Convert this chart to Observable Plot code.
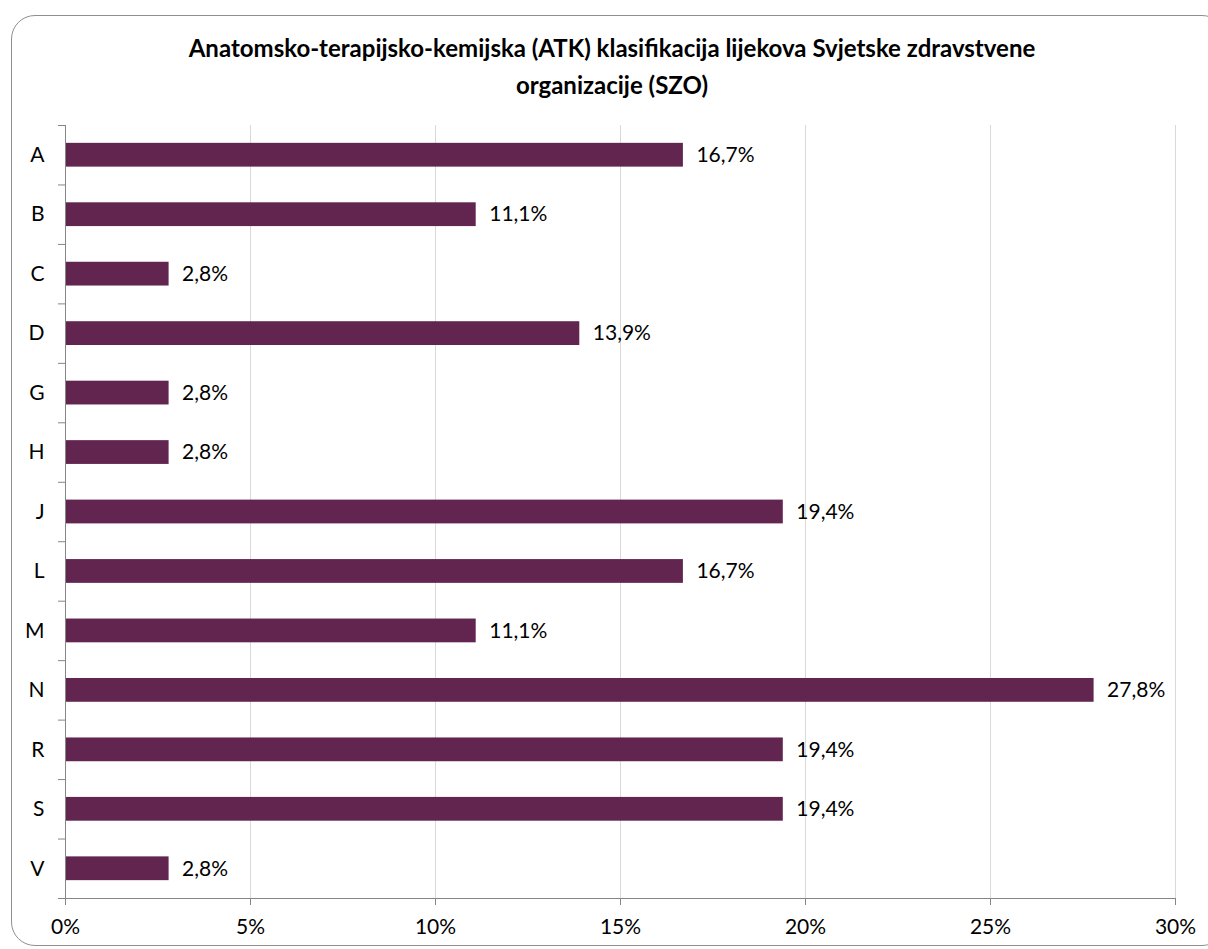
<!DOCTYPE html>
<html>
<head>
<meta charset="utf-8">
<script src="https://cdn.jsdelivr.net/npm/d3@7"></script>
<script src="https://cdn.jsdelivr.net/npm/@observablehq/plot@0.6"></script>
<style>
  html, body { margin: 0; padding: 0; background: #fff; overflow: hidden; }
  #wrap { position: relative; width: 1208px; height: 949px; overflow: hidden; font-family: Lato, "Open Sans", sans-serif; }
  #border { position: absolute; left: 11px; top: 15px; width: 1215px; height: 931px; border: 1px solid #8f8f8f; border-radius: 24px; box-sizing: border-box; }
  #title { position: absolute; left: 16px; top: 29px; width: 1192px; text-align: center; font-weight: bold; font-size: 24px; line-height: 37px; color: #000; }
  #chart { position: absolute; left: 0; top: 110px; }
</style>
</head>
<body>
<div id="wrap">
  <div id="border"></div>
  <div id="title">Anatomsko-terapijsko-kemijska (ATK) klasifikacija lijekova Svjetske zdravstvene<br>organizacije (SZO)</div>
  <div id="chart"></div>
</div>
<script>
const categories = ["A","B","C","D","G","H","J","L","M","N","R","S","V"];
const values = [16.7, 11.1, 2.8, 13.9, 2.8, 2.8, 19.4, 16.7, 11.1, 27.8, 19.4, 19.4, 2.8];
const xTicks = [0, 5, 10, 15, 20, 25, 30];

const data = categories.map((c, i) => ({cat: c, value: values[i]}));
const fmt = v => v.toFixed(1).replace(".", ",") + "%";

const W = 1208, H = 839, mt = 15, mb = 51, ml = 65, mr = 33;
const step = (H - mt - mb) / categories.length;

const plot = Plot.plot({
  width: W,
  height: H,
  marginTop: mt,
  marginBottom: mb,
  marginLeft: ml,
  marginRight: mr,
  style: {fontFamily: "Lato, 'Open Sans', sans-serif", fontSize: "21px", color: "#000", background: "transparent"},
  x: {domain: [0, 30]},
  y: {domain: categories, paddingInner: 0.6, paddingOuter: 0.3, align: 0.5, round: false, label: null},
  marks: [
    Plot.gridX(xTicks, {stroke: "#d9d9d9", strokeOpacity: 1}),
    Plot.barX(data, {x: "value", y: "cat", fill: "#622550"}),
    Plot.text(data, {x: "value", y: "cat", text: d => fmt(d.value), textAnchor: "start", dx: 13, fontSize: 21, fill: "#000"}),
    Plot.ruleX([0], {stroke: "#868686"}),
    Plot.frame({anchor: "bottom", stroke: "#868686"}),
    Plot.axisX(xTicks, {tickSize: 7, tickPadding: 14, stroke: "#868686", tickFormat: d => d + "%", label: null, fontSize: 21, fill: "#000"}),
    Plot.axisY(categories, {tickSize: 0, tickPadding: 21, label: null, fontSize: 21, fill: "#000"}),
    Plot.axisY(categories, {tickSize: 7, text: null, label: null, dy: -step / 2, stroke: "#868686"}),
    Plot.axisY([categories[categories.length - 1]], {tickSize: 7, text: null, label: null, dy: step / 2, stroke: "#868686"})
  ]
});
document.getElementById("chart").appendChild(plot);
</script>
</body>
</html>
